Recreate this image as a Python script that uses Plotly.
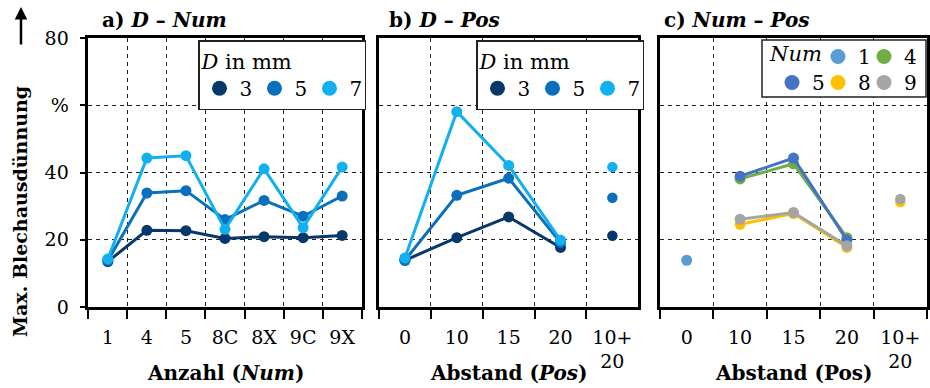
import plotly.graph_objects as go

# ---------------- data ----------------
num_cats = ["1", "4", "5", "8C", "8X", "9C", "9X"]
d3_num = [13.5, 22.8, 22.7, 20.4, 20.9, 20.6, 21.3]
d5_num = [13.8, 33.9, 34.6, 26.0, 31.7, 27.0, 33.0]
d7_num = [14.3, 44.3, 45.0, 23.1, 41.1, 23.6, 41.6]

pos_cats = ["0", "10", "15", "20"]
combo_cat = "10+<br>20"
d3_pos = [13.9, 20.6, 26.8, 17.7]
d5_pos = [13.9, 33.2, 38.3, 19.2]
d7_pos = [14.6, 58.1, 42.1, 19.9]
d3_combo = 21.2
d5_combo = 32.5
d7_combo = 41.6

num1_pos = [13.9, None, None, None]
num4_pos = [None, 38.1, 42.6, 20.6]
num5_pos = [None, 38.9, 44.3, 19.9]
num8_pos = [None, 24.6, 27.8, 17.7]
num9_pos = [None, 26.1, 28.1, 18.2]
num8_combo = 31.2
num9_combo = 32.1

y_ticks = [0, 20, 40, 60, 80]
y_ticktext = ["0", "20", "40", "%", "80"]

D_colors = {"3": "#06386B", "5": "#0A70BE", "7": "#12B0EE"}
N_colors = {"1": "#5B9BD5", "4": "#70AD47", "5": "#4472C4", "8": "#FFC000", "9": "#A5A5A5"}

FONT = "DejaVu Serif"
W, H = 930, 388
T, B = 38, 81
PH = H - T - B


def px_x(p):
    return p / W


def px_y(p):
    return (H - B - p) / PH


fig = go.Figure()

MS = 11
LW = 3

# panel a
for name, vals in (("3", d3_num), ("5", d5_num), ("7", d7_num)):
    fig.add_trace(go.Scatter(x=num_cats, y=vals, mode="lines+markers",
                             line=dict(color=D_colors[name], width=LW),
                             marker=dict(size=MS, color=D_colors[name]),
                             xaxis="x", yaxis="y", showlegend=False))
    fig.add_trace(go.Scatter(x=[None], y=[None], mode="markers", name=name,
                             marker=dict(size=15, color=D_colors[name]),
                             xaxis="x", yaxis="y", legend="legend"))

# panel b
for name, vals, cv in (("3", d3_pos, d3_combo), ("5", d5_pos, d5_combo), ("7", d7_pos, d7_combo)):
    fig.add_trace(go.Scatter(x=pos_cats, y=vals, mode="lines+markers",
                             line=dict(color=D_colors[name], width=LW),
                             marker=dict(size=MS, color=D_colors[name]),
                             xaxis="x2", yaxis="y2", showlegend=False))
    fig.add_trace(go.Scatter(x=[combo_cat], y=[cv], mode="markers",
                             marker=dict(size=MS - 0.5, color=D_colors[name]),
                             xaxis="x2", yaxis="y2", showlegend=False))
    fig.add_trace(go.Scatter(x=[None], y=[None], mode="markers", name=name,
                             marker=dict(size=15, color=D_colors[name]),
                             xaxis="x2", yaxis="y2", legend="legend2"))

# panel c
series_c = (("1", num1_pos, None), ("4", num4_pos, None), ("5", num5_pos, None),
            ("8", num8_pos, num8_combo), ("9", num9_pos, num9_combo))
for name, vals, cv in series_c:
    fig.add_trace(go.Scatter(x=pos_cats, y=vals, mode="lines+markers",
                             line=dict(color=N_colors[name], width=LW),
                             marker=dict(size=MS, color=N_colors[name]),
                             xaxis="x3", yaxis="y3", showlegend=False))
    if cv is not None:
        fig.add_trace(go.Scatter(x=[combo_cat], y=[cv], mode="markers",
                                 marker=dict(size=MS - 0.5, color=N_colors[name]),
                                 xaxis="x3", yaxis="y3", showlegend=False))
    last_in_row = name in ("4", "9")
    fig.add_trace(go.Scatter(x=[None], y=[None], mode="markers", name=name,
                             marker=dict(size=15, color=N_colors[name]),
                             xaxis="x3", yaxis="y3",
                             legendwidth=16 if last_in_row else 1,
                             legend="legend3" if name in ("1", "4") else "legend4"))

GRID = dict(showgrid=True, gridcolor="#222", gridwidth=1, griddash="4px,4px")
FRAME = dict(showline=True, linecolor="black", linewidth=2.5, mirror=True, zeroline=False)
xcommon = dict(type="category", tickson="boundaries", ticks="outside", ticklen=9,
               tickwidth=2, tickcolor="black", ticklabelstandoff=11,
               tickfont=dict(family=FONT, size=19, color="black"), **GRID, **FRAME)
ycommon = dict(range=[0, 80], tickvals=y_ticks, **GRID, **FRAME)

domains = [(px_x(88.3), px_x(361.7)), (px_x(379), px_x(638.3)), (px_x(660), px_x(927))]

pos_all = pos_cats + [combo_cat]

fig.update_layout(
    width=W, height=H,
    margin=dict(l=0, r=0, t=T, b=B, autoexpand=False),
    paper_bgcolor="white", plot_bgcolor="white",
    font=dict(family=FONT, color="black"),
    xaxis=dict(domain=domains[0], anchor="y", categoryorder="array", categoryarray=num_cats,
               range=[-0.5, len(num_cats) - 0.5], **xcommon),
    xaxis2=dict(domain=domains[1], anchor="y2", categoryorder="array", categoryarray=pos_all,
                range=[-0.5, len(pos_all) - 0.5], **xcommon),
    xaxis3=dict(domain=domains[2], anchor="y3", categoryorder="array", categoryarray=pos_all,
                range=[-0.5, len(pos_all) - 0.5], **xcommon),
    yaxis=dict(anchor="x", ticktext=y_ticktext, ticks="outside", ticklen=6, tickwidth=2,
               tickcolor="black", ticklabelstandoff=7,
               tickfont=dict(family=FONT, size=19, color="black"), **ycommon),
    yaxis2=dict(anchor="x2", showticklabels=False, ticks="", **ycommon),
    yaxis3=dict(anchor="x3", showticklabels=False, ticks="", **ycommon),
)

leg_common = dict(orientation="h", xanchor="left", yanchor="top",
                  font=dict(family=FONT, size=20, color="black"), itemwidth=30,
                  tracegroupgap=0, itemclick=False)
fig.update_layout(
    legend=dict(x=px_x(198), y=px_y(40), bgcolor="white", bordercolor="#222", borderwidth=1.5,
                entrywidth=10,
                title=dict(text="<i>D</i> in mm", side="top", font=dict(family=FONT, size=21)),
                **leg_common),
    legend2=dict(x=px_x(476), y=px_y(40), bgcolor="white", bordercolor="#222", borderwidth=1.5,
                 entrywidth=10,
                 title=dict(text="<i>D</i> in mm", side="top", font=dict(family=FONT, size=21)),
                 **leg_common),
    legend3=dict(x=px_x(818), y=px_y(37), bgcolor="rgba(0,0,0,0)", borderwidth=0, **leg_common),
    legend4=dict(x=px_x(772), y=px_y(63), bgcolor="rgba(0,0,0,0)", borderwidth=0, **leg_common),
)

fig.add_shape(type="rect", xref="paper", yref="paper",
              x0=px_x(762), x1=px_x(926), y0=px_y(97), y1=px_y(40),
              line=dict(color="#222", width=1.5), fillcolor="white", layer="above")

ann_font = dict(family=FONT, size=20, color="black")
# legend title of panel c (inline with first legend row)
fig.add_annotation(x=px_x(767), y=px_y(54), xref="paper", yref="paper", text="<i>Num</i>",
                   showarrow=False, xanchor="left", yanchor="middle",
                   font=dict(family=FONT, size=21, color="black"))
# panel titles
for xp, txt in ((100, "<b>a) <i>D</i> – <i>Num</i></b>"),
                (387, "<b>b) <i>D</i> – <i>Pos</i></b>"),
                (662, "<b>c) <i>Num</i> – <i>Pos</i></b>")):
    fig.add_annotation(x=px_x(xp), y=px_y(20), xref="paper", yref="paper", text=txt,
                       showarrow=False, xanchor="left", yanchor="middle", font=ann_font)
# x-axis titles
for (d0, d1), txt in zip(domains, ("<b>Anzahl (<i>Num</i>)</b>", "<b>Abstand (<i>Pos</i>)</b>",
                                   "<b>Abstand (Pos)</b>")):
    fig.add_annotation(x=(d0 + d1) / 2, y=px_y(373), xref="paper", yref="paper", text=txt,
                       showarrow=False, xanchor="center", yanchor="middle", font=ann_font)
# y-axis title
fig.add_annotation(x=px_x(20), y=px_y(212), xref="paper", yref="paper",
                   text="<b>Max. Blechausdünnung</b>", textangle=-90, showarrow=False,
                   xanchor="center", yanchor="middle",
                   font=dict(family=FONT, size=19, color="black"))
# arrow
fig.add_annotation(x=px_x(21), y=px_y(7), xref="paper", yref="paper", text="",
                   showarrow=True, ax=0, ay=39, arrowhead=2, arrowsize=1, arrowwidth=2.5,
                   arrowcolor="black")

fig.write_html("out.html", config={"displayModeBar": False},
               post_script="document.body.style.margin='0';")
